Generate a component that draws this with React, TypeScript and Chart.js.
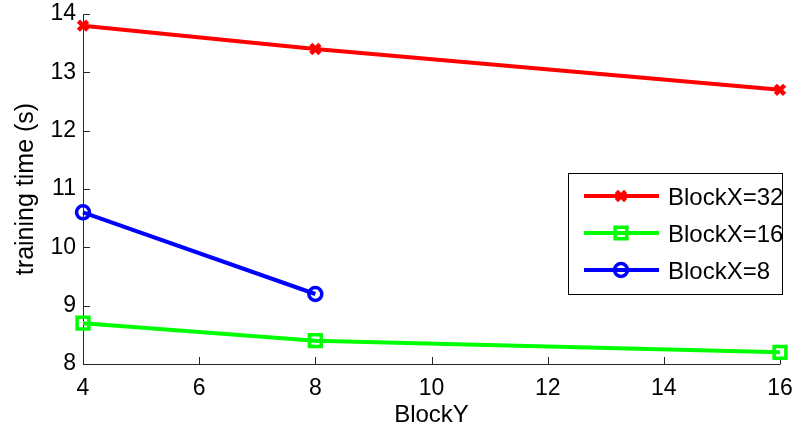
import React, { useEffect, useRef } from "react";
import { Chart, registerables } from "chart.js";

Chart.register(...registerables);

const xValues = [4, 8, 16];
const seriesLabels = ["BlockX=32", "BlockX=16", "BlockX=8"];
const block32 = [13.8, 13.4, 12.7];
const block16 = [8.7, 8.4, 8.2];
const block8 = [10.6, 9.2];
const xTicks = [4, 6, 8, 10, 12, 14, 16];
const yTicks = [8, 9, 10, 11, 12, 13, 14];
const colors = ["#ff0000", "#00ff00", "#0000ff"];
const pointStyles = ["crossRot", "rect", "circle"];
const pointRadii = [6.5, 8.3, 6.5];
const pointBorders = [4.5, 3.5, 3.5];

const FONT = "'Liberation Sans', Arial, Helvetica, sans-serif";

function toPoints(vals: number[]) {
  return vals.map((v, i) => ({ x: xValues[i], y: v }));
}

function drawMarker(ctx: CanvasRenderingContext2D, style: string, x: number, y: number, r: number, color: string, lw: number) {
  ctx.save();
  ctx.strokeStyle = color;
  ctx.lineWidth = lw;
  ctx.beginPath();
  if (style === "crossRot") {
    const d = r * Math.SQRT1_2;
    ctx.moveTo(x - d, y - d);
    ctx.lineTo(x + d, y + d);
    ctx.moveTo(x + d, y - d);
    ctx.lineTo(x - d, y + d);
  } else if (style === "rect") {
    const s = r * Math.SQRT1_2;
    ctx.rect(x - s, y - s, 2 * s, 2 * s);
  } else {
    ctx.arc(x, y, r, 0, Math.PI * 2);
  }
  ctx.stroke();
  ctx.restore();
}

const axesPlugin = {
  id: "matlabAxes",
  beforeDatasetsDraw(chart: any) {
    const { ctx, chartArea, scales } = chart;
    const { left, bottom, right, top } = chartArea;
    ctx.save();
    ctx.strokeStyle = "#262626";
    ctx.lineWidth = 1;
    ctx.beginPath();
    ctx.moveTo(left + 0.5, top);
    ctx.lineTo(left + 0.5, bottom + 0.5);
    ctx.lineTo(right + 0.5, bottom + 0.5);
    ctx.stroke();
    ctx.beginPath();
    xTicks.forEach((t) => {
      const px = Math.round(scales.x.getPixelForValue(t)) + 0.5;
      ctx.moveTo(px, bottom);
      ctx.lineTo(px, bottom - 7);
    });
    yTicks.forEach((t) => {
      const py = Math.round(scales.y.getPixelForValue(t)) + 0.5;
      ctx.moveTo(left, py);
      ctx.lineTo(left + 7, py);
    });
    ctx.stroke();
    ctx.restore();
  },
  afterDraw(chart: any) {
    const { ctx } = chart;
    ctx.save();
    const bx = 568, by = 173, bw = 214, bh = 121;
    ctx.fillStyle = "#ffffff";
    ctx.fillRect(bx, by, bw, bh);
    ctx.strokeStyle = "#000000";
    ctx.lineWidth = 1;
    ctx.strokeRect(bx + 0.5, by + 0.5, bw, bh);
    const rows = [196, 233, 270];
    seriesLabels.forEach((label, i) => {
      const y = rows[i];
      ctx.strokeStyle = colors[i];
      ctx.lineWidth = 4;
      ctx.beginPath();
      ctx.moveTo(584, y);
      ctx.lineTo(659, y);
      ctx.stroke();
      drawMarker(ctx, pointStyles[i], 621, y, pointRadii[i], colors[i], pointBorders[i]);
      ctx.fillStyle = "#000000";
      ctx.font = `24px ${FONT}`;
      ctx.textBaseline = "middle";
      ctx.textAlign = "left";
      ctx.fillText(label, 668, y + 2);
    });
    ctx.restore();
  },
};

export default function App() {
  const ref = useRef<HTMLCanvasElement | null>(null);
  useEffect(() => {
    if (!ref.current) return;
    const data = [block32, block16, block8];
    const chart = new Chart(ref.current, {
      type: "line",
      data: {
        datasets: data.map((vals, i) => ({
          label: seriesLabels[i],
          data: toPoints(vals),
          borderColor: colors[i],
          backgroundColor: colors[i],
          borderWidth: 4,
          pointStyle: pointStyles[i] as any,
          pointRadius: pointRadii[i],
          pointBorderWidth: pointBorders[i],
          pointBorderColor: colors[i],
          pointBackgroundColor: "rgba(0,0,0,0)",
          tension: 0,
          clip: false as any,
        })),
      },
      options: {
        responsive: false,
        animation: false,
        events: [],
        layout: { padding: { top: 14, right: 21, left: 0, bottom: 0 } },
        plugins: { legend: { display: false }, tooltip: { enabled: false } },
        scales: {
          x: {
            type: "linear",
            min: 4,
            max: 16,
            afterBuildTicks: (s: any) => { s.ticks = xTicks.map((v) => ({ value: v })); },
            afterFit: (s: any) => { s.height = 66; s.paddingLeft = 0; s.paddingRight = 0; },
            grid: { display: false, drawTicks: false },
            border: { display: false },
            ticks: { padding: 11, color: "#000", font: { family: FONT, size: 23 }, maxRotation: 0 },
            title: { display: true, text: "BlockY", color: "#000", font: { family: FONT, size: 24 }, padding: { top: 1, bottom: 0 } },
          },
          y: {
            type: "linear",
            min: 8,
            max: 14,
            afterBuildTicks: (s: any) => { s.ticks = yTicks.map((v) => ({ value: v })); },
            afterFit: (s: any) => { s.width = 83; s.paddingTop = 0; s.paddingBottom = 0; },
            grid: { display: false, drawTicks: false },
            border: { display: false },
            ticks: { padding: 7, color: "#000", font: { family: FONT, size: 23 } },
            title: { display: true, text: "training time (s)", color: "#000", font: { family: FONT, size: 25 }, padding: { top: 11, bottom: 0 } },
          },
        },
      },
      plugins: [axesPlugin],
    });
    return () => chart.destroy();
  }, []);
  return (
    <div style={{ position: "fixed", left: 0, top: 0, width: 801, height: 430, background: "#fff" }}>
      <canvas ref={ref} width={801} height={430} style={{ width: 801, height: 430 }} />
    </div>
  );
}
